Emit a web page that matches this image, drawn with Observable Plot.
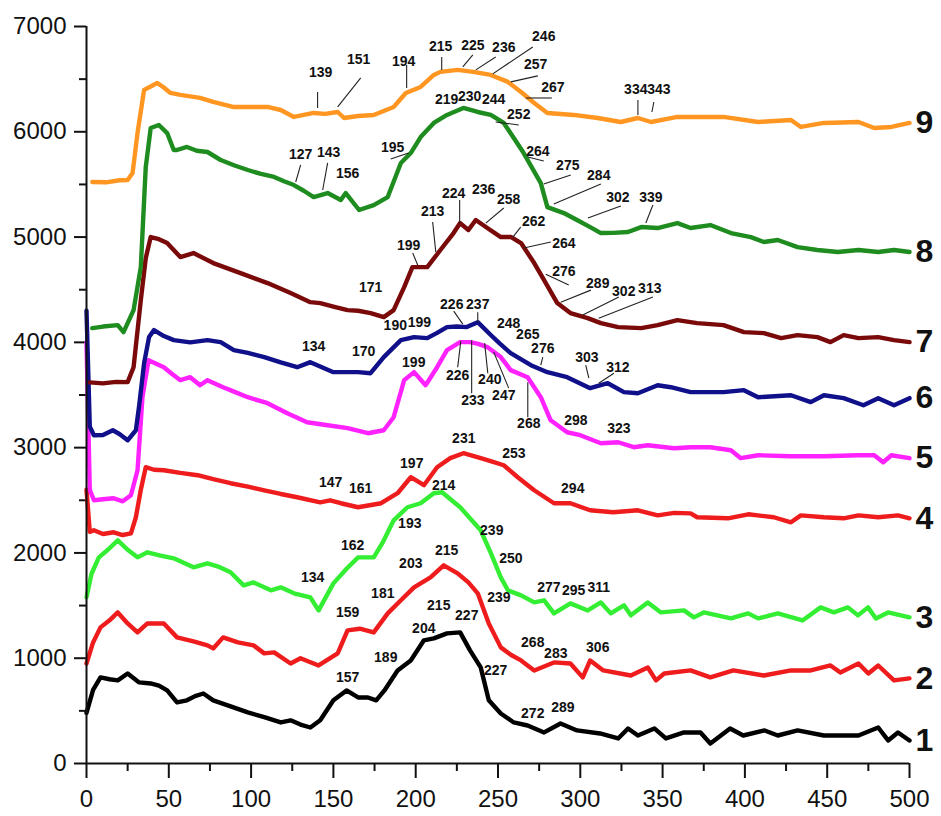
<!DOCTYPE html>
<html>
<head>
<meta charset="utf-8">
<script src="https://cdn.jsdelivr.net/npm/d3@7"></script>
<script src="https://cdn.jsdelivr.net/npm/@observablehq/plot@0.6"></script>
<style>
  html, body { margin: 0; padding: 0; background: #fff; }
  #chart { width: 941px; height: 816px; }
</style>
</head>
<body>
<div id="chart"></div>
<script>
// ---- data (x, intensity) ----
const curve1 = [[0,480],[4,700],[8.5,818],[14,800],[19,790],[25,855],[32,770],[39,760],[44,740],[49,694],[55,580],[61,600],[66,640],[71,665],[77,600],[88,540],[98,485],[108,440],[118,390],[124,410],[130,370],[136,342],[142,410],[150,600],[158,694],[165,627],[171,627],[176,600],[181,694],[189,884],[197,979],[205,1170],[211,1188],[219,1236],[227,1245],[233,1074],[239.5,913],[244.4,600],[251.7,475],[259.6,390],[268,361],[278,295],[288,380],[298,314],[312,285],[323,238],[329,333],[335,266],[345,333],[352,238],[363,295],[373,295],[379,190],[391,333],[399,266],[412,314],[420,266],[432,314],[448,266],[469,266],[481,342],[487,219],[493,295],[500,219]];
const curve2 = [[0,950],[4,1150],[8.5,1293],[14,1360],[19,1435],[25,1330],[31,1245],[37,1330],[47,1330],[55,1198],[65,1160],[73.5,1122],[77,1093],[83,1198],[92,1150],[101.5,1122],[108,1046],[114,1055],[124,950],[130,1000],[141,931],[152.6,1046],[158.6,1264],[166,1280],[174.5,1245],[183,1426],[191,1550],[199,1673],[209,1768],[217,1882],[225.5,1806],[232,1720],[237.7,1616],[244.4,1330],[251.7,1103],[258,1030],[264,979],[272,884],[284,960],[294,950],[301.5,818],[306,979],[314,884],[330.7,836],[341,912],[346,789],[351,855],[367,884],[379,818],[393,884],[411.5,836],[428,884],[440,884],[452,931],[458,865],[469,950],[475,855],[481,931],[490.6,789],[500,808]];
const curve3 = [[0,1578],[3,1800],[7.5,1958],[13,2030],[19,2120],[25,2030],[31,1958],[37,2006],[45,1975],[53,1949],[65,1863],[73.5,1901],[80,1870],[87.5,1816],[95.5,1692],[101.5,1720],[112,1645],[118,1673],[126,1616],[136,1578],[141,1454],[150,1711],[158,1850],[165,1958],[174.5,1958],[180,2100],[186.6,2310],[195,2434],[203,2472],[211,2567],[216,2576],[227,2434],[239.5,2215],[245.6,2000],[251.7,1768],[256,1645],[264,1597],[272,1530],[278,1550],[284,1426],[294,1521],[304.5,1454],[312.5,1530],[318.5,1426],[326.5,1502],[330.7,1407],[341,1530],[349,1435],[363,1454],[369,1388],[375,1435],[391.5,1378],[402,1426],[408,1378],[420,1426],[435,1359],[446,1483],[454,1435],[462.6,1483],[468.7,1407],[474.8,1483],[479.6,1378],[487,1435],[500,1388]];
const curve4 = [[0,2600],[2,2200],[4.5,2215],[10,2180],[16.5,2196],[22,2170],[27,2186],[30,2339],[33,2600],[36,2814],[41,2790],[47,2785],[57,2760],[67.5,2738],[77,2700],[87.5,2662],[98,2630],[108,2595],[118,2560],[128,2529],[142,2481],[148,2500],[154.5,2472],[165,2434],[179,2472],[189,2567],[197,2719],[205,2643],[213,2814],[221,2900],[229,2947],[239.5,2900],[246,2870],[253.5,2833],[262,2719],[272,2595],[284,2472],[294,2472],[306,2405],[320,2386],[335,2405],[347,2357],[357,2380],[367,2376],[371,2339],[389.7,2329],[402,2367],[417.6,2339],[428,2291],[434,2357],[448,2339],[460,2329],[469,2357],[481,2339],[493,2357],[500,2329]];
const curve5 = [[0,4000],[2,2600],[4.5,2500],[10,2510],[16.5,2519],[22,2490],[27,2548],[31,2785],[34,3479],[37.7,3831],[42,3800],[47,3764],[52,3700],[57,3641],[63,3669],[69,3593],[73.5,3641],[83,3574],[90,3530],[98,3479],[110,3422],[122,3327],[134,3241],[146.5,3213],[158.6,3185],[171,3137],[180.6,3165],[186.6,3289],[193,3641],[199,3717],[206,3593],[213,3764],[219,3926],[227,4002],[233,4002],[238,3985],[243.5,3955],[251.7,3860],[257.7,3736],[268,3669],[276,3479],[282,3260],[292,3146],[300,3118],[312.5,3042],[323,3051],[332.5,3004],[341,3023],[357,2994],[367,3004],[379,3004],[391.5,2975],[397.5,2900],[408,2928],[428,2918],[448,2918],[469,2928],[478.6,2928],[484,2861],[489,2928],[500,2900]];
const curve6 = [[0,4300],[2,3200],[4.5,3118],[10,3120],[16,3165],[20,3130],[25,3070],[30,3165],[32,3400],[35,3802],[38,4050],[41,4116],[47,4060],[53,4021],[63,4000],[73.5,4021],[81.5,4002],[89.5,3926],[98,3900],[108,3860],[118,3810],[128,3764],[136,3812],[150,3717],[165,3717],[172.6,3707],[180.6,3860],[191,4021],[199,4050],[207,4040],[213,4090],[219,4145],[225,4150],[231,4145],[237.7,4192],[245.6,4070],[251,3990],[257.7,3897],[270,3783],[280,3717],[292,3669],[306,3565],[316.7,3612],[326.5,3527],[335,3517],[347,3593],[355,3574],[367,3527],[387,3527],[399.4,3546],[408,3479],[428,3498],[440,3432],[448,3498],[460,3470],[472,3403],[481,3470],[490.6,3403],[500,3470]];
const curve7 = [[2,3620],[10,3610],[18,3625],[25,3622],[28.6,3764],[33,4401],[36,4800],[39,5000],[44,4980],[49,4943],[57,4810],[65,4848],[77,4753],[93.6,4658],[110,4563],[124,4468],[136,4382],[142,4373],[150,4340],[158.6,4306],[165,4300],[172.6,4278],[180.6,4240],[186.6,4306],[193,4525],[198,4715],[207,4715],[215,4877],[223,5038],[227,5133],[232,5067],[236.5,5162],[243.5,5086],[251.7,5000],[258,5000],[264,4943],[272,4753],[278,4591],[286,4373],[294,4278],[304.5,4230],[312.5,4183],[323,4145],[337,4135],[347,4164],[359,4211],[371,4183],[387,4164],[399.4,4097],[411.5,4088],[422,4040],[432,4069],[444,4050],[452,4002],[460,4069],[469,4040],[481,4050],[490.6,4021],[500,4002]];
const curve8 = [[3.5,4135],[10,4150],[19,4164],[22.5,4097],[28.6,4306],[33,4715],[36,5666],[39,6036],[44,6064],[49,5988],[53,5827],[55,5827],[61,5856],[67,5820],[73.5,5808],[81.5,5732],[90,5680],[98,5637],[106,5600],[114,5571],[120,5530],[126,5494],[132,5440],[138,5380],[146.5,5418],[154.5,5352],[157.5,5418],[165.6,5257],[174.5,5304],[183,5380],[191,5703],[197,5798],[203,5950],[211,6084],[219,6160],[229,6226],[237.7,6188],[245.6,6160],[253.5,6084],[265.6,5798],[276,5513],[280,5285],[290,5228],[298,5162],[306,5095],[312.5,5038],[320,5040],[329,5048],[337,5095],[347,5086],[359,5133],[367,5086],[379,5114],[391.5,5038],[403.6,5000],[411.5,4953],[420,4972],[432,4905],[444,4877],[456.5,4858],[469,4877],[481,4858],[490.6,4877],[500,4858]];
const curve9 = [[3.5,5523],[12,5520],[20,5540],[25,5542],[28,5608],[31,5989],[35,6398],[39,6430],[43,6464],[47,6420],[51,6369],[57,6350],[69,6322],[77,6284],[89,6236],[98,6236],[110,6236],[118,6207],[126,6141],[138,6179],[145,6170],[152.6,6188],[156.5,6131],[165,6150],[174.5,6160],[186.6,6236],[194,6369],[203,6426],[211,6540],[215,6569],[225.5,6588],[235,6569],[245.6,6540],[256,6474],[264,6378],[272,6274],[280,6179],[296,6160],[310.6,6131],[324.6,6093],[335,6131],[343,6093],[359,6141],[387,6141],[408,6093],[428,6112],[434,6046],[448,6084],[469,6093],[478.6,6036],[489,6046],[500,6084]];

const seriesNames = ["1","2","3","4","5","6","7","8","9"];
const seriesColors = ["#000000","#ee1c1c","#33ee33","#ee1c1c","#ff22ff","#10108a","#7a0a0a","#1e8c1e","#ff9622"];
const seriesData = [curve1,curve2,curve3,curve4,curve5,curve6,curve7,curve8,curve9];

// peak annotations: [text, x, y]
const labels9 = [["139",142.2,6559],["151",165.3,6683],["194",192.7,6664],["215",215.2,6806],["225",234.7,6816],["236",253.5,6797],["246",277.8,6901],["257",272.9,6635],["267",283.3,6417],["334",333.7,6398],["343",347.7,6398]];
const labels8 = [["219",218.8,6302],["230",232.8,6331],["244",247.4,6302],["252",262.6,6160],["195",186,5846],["127",130.1,5780],["143",147.1,5799],["156",158.7,5599],["264",274.2,5808],["275",292.4,5675],["284",311.2,5580],["302",322.8,5371],["339",342.9,5380]];
const labels7 = [["171",172.6,4525],["199",195.7,4924],["213",210.3,5238],["224",223.1,5418],["236",241.3,5447],["258",256.5,5361],["262",271.7,5143],["264",290,4943],["276",290,4677],["289",310.6,4563],["302",326.4,4487],["313",342.2,4515]];
const labels6 = [["134",138,3964],["170",168.4,3916],["190",187.6,4164],["199",202.2,4192],["226",221.9,4363],["237",237.7,4363],["248",256.5,4183],["265",268.1,4078],["276",277.2,3945],["303",304,3859],["312",322.8,3764]];
const labels5 = [["199",198.8,3812],["226",225.5,3688],["233",234.7,3451],["240",245,3650],["247",253.5,3498],["268",268.7,3232],["298",297.3,3261],["323",323.4,3185]];
const labels4 = [["147",148.3,2671],["161",166.6,2614],["197",197.6,2852],["231",229.2,3089],["253",259.6,2947],["294",295.4,2614]];
const labels3 = [["214",217,2643],["193",196.4,2281],["162",161.7,2072],["134",137.4,1768],["239",246.2,2215],["250",257.8,1949],["277",280.9,1673],["295",296,1645],["311",311.2,1673]];
const labels2 = [["215",218.8,2025],["203",197,1901],["181",180,1616],["159",158.7,1435],["239",250.5,1578],["268",271.1,1150],["283",285.1,1046],["306",310.6,1103]];
const labels1 = [["215",214,1502],["227",231,1407],["204",204.9,1283],["189",181.8,1008],["157",158.7,818],["227",248.6,884],["272",271.1,475],["289",289.4,532]];

// leader lines: [x1, y1, x2, y2]
const leaders = [
  [140.4,6378,140.4,6226],[166.6,6512,152.6,6236],[194.5,6635,194.5,6417],[215.8,6711,215.8,6588],
  [234.7,6730,228.6,6616],[248.6,6711,236.5,6588],[271.1,6806,246.8,6550],[274.2,6531,257.8,6474],
  [282.7,6321,266.9,6321],[335,6302,335,6160],[344.7,6283,343.5,6188],
  [262.6,6065,248.6,6093],[184.8,5742,195.7,5799],[130.1,5685,127.1,5523],[146.5,5704,143.5,5447],
  [268.1,5761,277.8,5723],[294.2,5590,277.8,5504],[312.5,5504,283.9,5314],[324.6,5295,304.6,5181],
  [344.1,5304,339.8,5133],
  [198.2,4848,201.2,4734],[210.3,5143,212.2,4858],[226.7,5352,226.7,5133],[253.5,5276,242.6,5133],
  [263.8,5095,259,5000],[282.1,4953,265.7,4896],[293,4544,279,4648],[306.4,4496,288.1,4382],
  [323.4,4430,301.5,4259],[344.1,4430,311.2,4230],
  [223.1,4297,228.6,4173],[237.7,4287,237.7,4192],[277.2,3859,276,3783],[303.3,3783,305.2,3660],
  [320.4,3707,311.2,3612],
  [225.5,3764,227.4,4012],[234,3517,234,4021],[243.8,3707,241.9,3993],[256.5,3565,247.4,3907],
  [268.1,3289,268.1,3622]
];

const xTicks = d3.range(0, 501, 50);
const xMinor = d3.range(25, 500, 50);
const yTicks = d3.range(0, 7001, 1000);
const yMinor = d3.range(500, 7000, 1000);

// ---- build ----
const lineMarks = seriesData.map((s, i) =>
  Plot.line(s, {x: d => d[0], y: d => d[1], stroke: seriesColors[i], strokeWidth: 4.4, curve: "linear", strokeLinejoin: "round", strokeLinecap: "round"})
);
const endLabels = seriesData.map((s, i) => ({t: seriesNames[i], x: 500, y: s[s.length - 1][1]}));
const allLabels = [labels9, labels8, labels7, labels6, labels5, labels4, labels3, labels2, labels1].flat();

const numFont = "'Liberation Sans Narrow', 'Arial Narrow', 'Liberation Sans', Arial, sans-serif";
const plain = d3.format("d");

const chart = Plot.plot({
  width: 941,
  height: 816,
  marginTop: 26,
  marginRight: 32,
  marginBottom: 53,
  marginLeft: 86,
  style: {fontFamily: "'Liberation Sans', Arial, sans-serif", fontSize: "24px", background: "#fff", color: "#111"},
  x: {domain: [0, 500], axis: null},
  y: {domain: [0, 7000], axis: null},
  marks: [
    Plot.axisY(yTicks, {tickSize: 12, tickPadding: 8, strokeWidth: 2, fontSize: 24, stroke: "#111", tickFormat: plain, label: null}),
    Plot.axisY(yMinor, {tickSize: 7, strokeWidth: 2, tickFormat: () => "", stroke: "#111", label: null}),
    Plot.axisX(xTicks, {tickSize: 15, tickPadding: 11, strokeWidth: 2, fontSize: 24, stroke: "#111", tickFormat: plain, label: null}),
    Plot.axisX(xMinor, {tickSize: 8, strokeWidth: 2, tickFormat: () => "", stroke: "#111", label: null}),
    ...lineMarks,
    Plot.ruleX([0], {stroke: "#111", strokeWidth: 2}),
    Plot.ruleY([0], {stroke: "#111", strokeWidth: 2}),
    Plot.link(leaders, {x1: d => d[0], y1: d => d[1], x2: d => d[2], y2: d => d[3], stroke: "#222", strokeWidth: 1.1}),
    Plot.text(allLabels, {x: d => d[1], y: d => d[2], text: d => d[0], fontSize: 14, fontFamily: numFont, fill: "#111", fontWeight: "bold"}),
    Plot.text(endLabels, {x: "x", y: "y", text: "t", dx: 6, textAnchor: "start", fontSize: 32, fontWeight: "bold", fontFamily: numFont, fill: "#111"})
  ]
});
document.getElementById("chart").appendChild(chart);
</script>
</body>
</html>
